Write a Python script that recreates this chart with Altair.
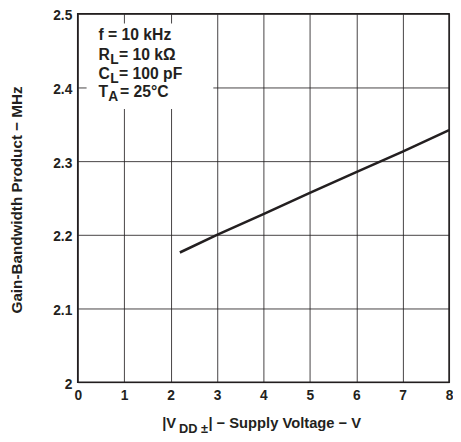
import altair as alt
import pandas as pd

# data
vdd = [2.2, 3, 4, 5, 6, 7, 8]
gbw = [2.176, 2.2, 2.228, 2.257, 2.285, 2.313, 2.342]
x_ticks = [0, 1, 2, 3, 4, 5, 6, 7, 8]
y_ticks = [2.0, 2.1, 2.2, 2.3, 2.4, 2.5]

df = pd.DataFrame({"vdd": vdd, "gbw": gbw})

FONT = "Liberation Sans"
INK = "#231f20"
W, H = 378, 375

xs = alt.Scale(domain=[0, 8], nice=False, zero=False)
ys = alt.Scale(domain=[2, 2.5], nice=False, zero=False)

line = alt.Chart(df).mark_line(color=INK, strokeWidth=2.6).encode(
    x=alt.X("vdd:Q", scale=xs, title=None,
            axis=alt.Axis(values=x_ticks, grid=True, ticks=False, tickSize=0, domain=False,
                          labelPadding=7, labelFontSize=14, labelFontWeight="bold",
                          labelFont=FONT, labelColor=INK, gridColor=INK, gridWidth=1,
                          gridOpacity=0.85, labelFlush=False)),
    y=alt.Y("gbw:Q", scale=ys, title=None,
            axis=alt.Axis(values=y_ticks, grid=True, ticks=False, tickSize=0, domain=False,
                          labelPadding=6, labelFontSize=14, labelFontWeight="bold",
                          labelFont=FONT, labelColor=INK, gridColor=INK, gridWidth=1,
                          gridOpacity=0.85, format=".1~f", labelOffset=2, labelFlush=False)),
)

one = pd.DataFrame({"a": [0]})

box = alt.Chart(one).mark_rect(color="white").encode(
    x=alt.value(9), x2=alt.value(138), y=alt.value(10), y2=alt.value(97)
)


def txt(s, x, y, size=16, align="left", angle=0, baseline="alphabetic"):
    return alt.Chart(one).mark_text(
        text=s, font=FONT, fontSize=size, fontWeight="bold", color=INK,
        align=align, baseline=baseline, angle=angle
    ).encode(x=alt.value(x), y=alt.value(y))


layers = [line, box,
          txt("f = 10 kHz", 21, 27),
          txt("R", 21, 47), txt("L", 33, 51, 14), txt(" = 10 k\u03a9", 42, 47),
          txt("C", 21, 66), txt("L", 33, 70, 14), txt(" = 100 pF", 42, 66),
          txt("T", 21, 85), txt("A", 31, 89, 14), txt(" = 25\u00b0C", 43, 85),
          # x-axis title with subscript
          txt("|V", 86, 422, 15), txt("DD \u00b1", 103, 427, 13), txt("| \u2212 Supply Voltage \u2212 V", 133, 422, 15),
          # y-axis title
          txt("Gain-Bandwidth Product \u2212 MHz", -62, H / 2 + 2, 15.5, align="center", angle=270, baseline="middle"),
          ]

chart = alt.layer(*layers).properties(
    width=W, height=H,
    autosize=alt.AutoSizeParams(type="none"),
    padding={"left": 71, "top": 2, "right": 4, "bottom": 56},
).configure_view(stroke=INK, strokeWidth=1.6)

chart.save("out.html", embed_options={"renderer": "svg", "actions": False})
